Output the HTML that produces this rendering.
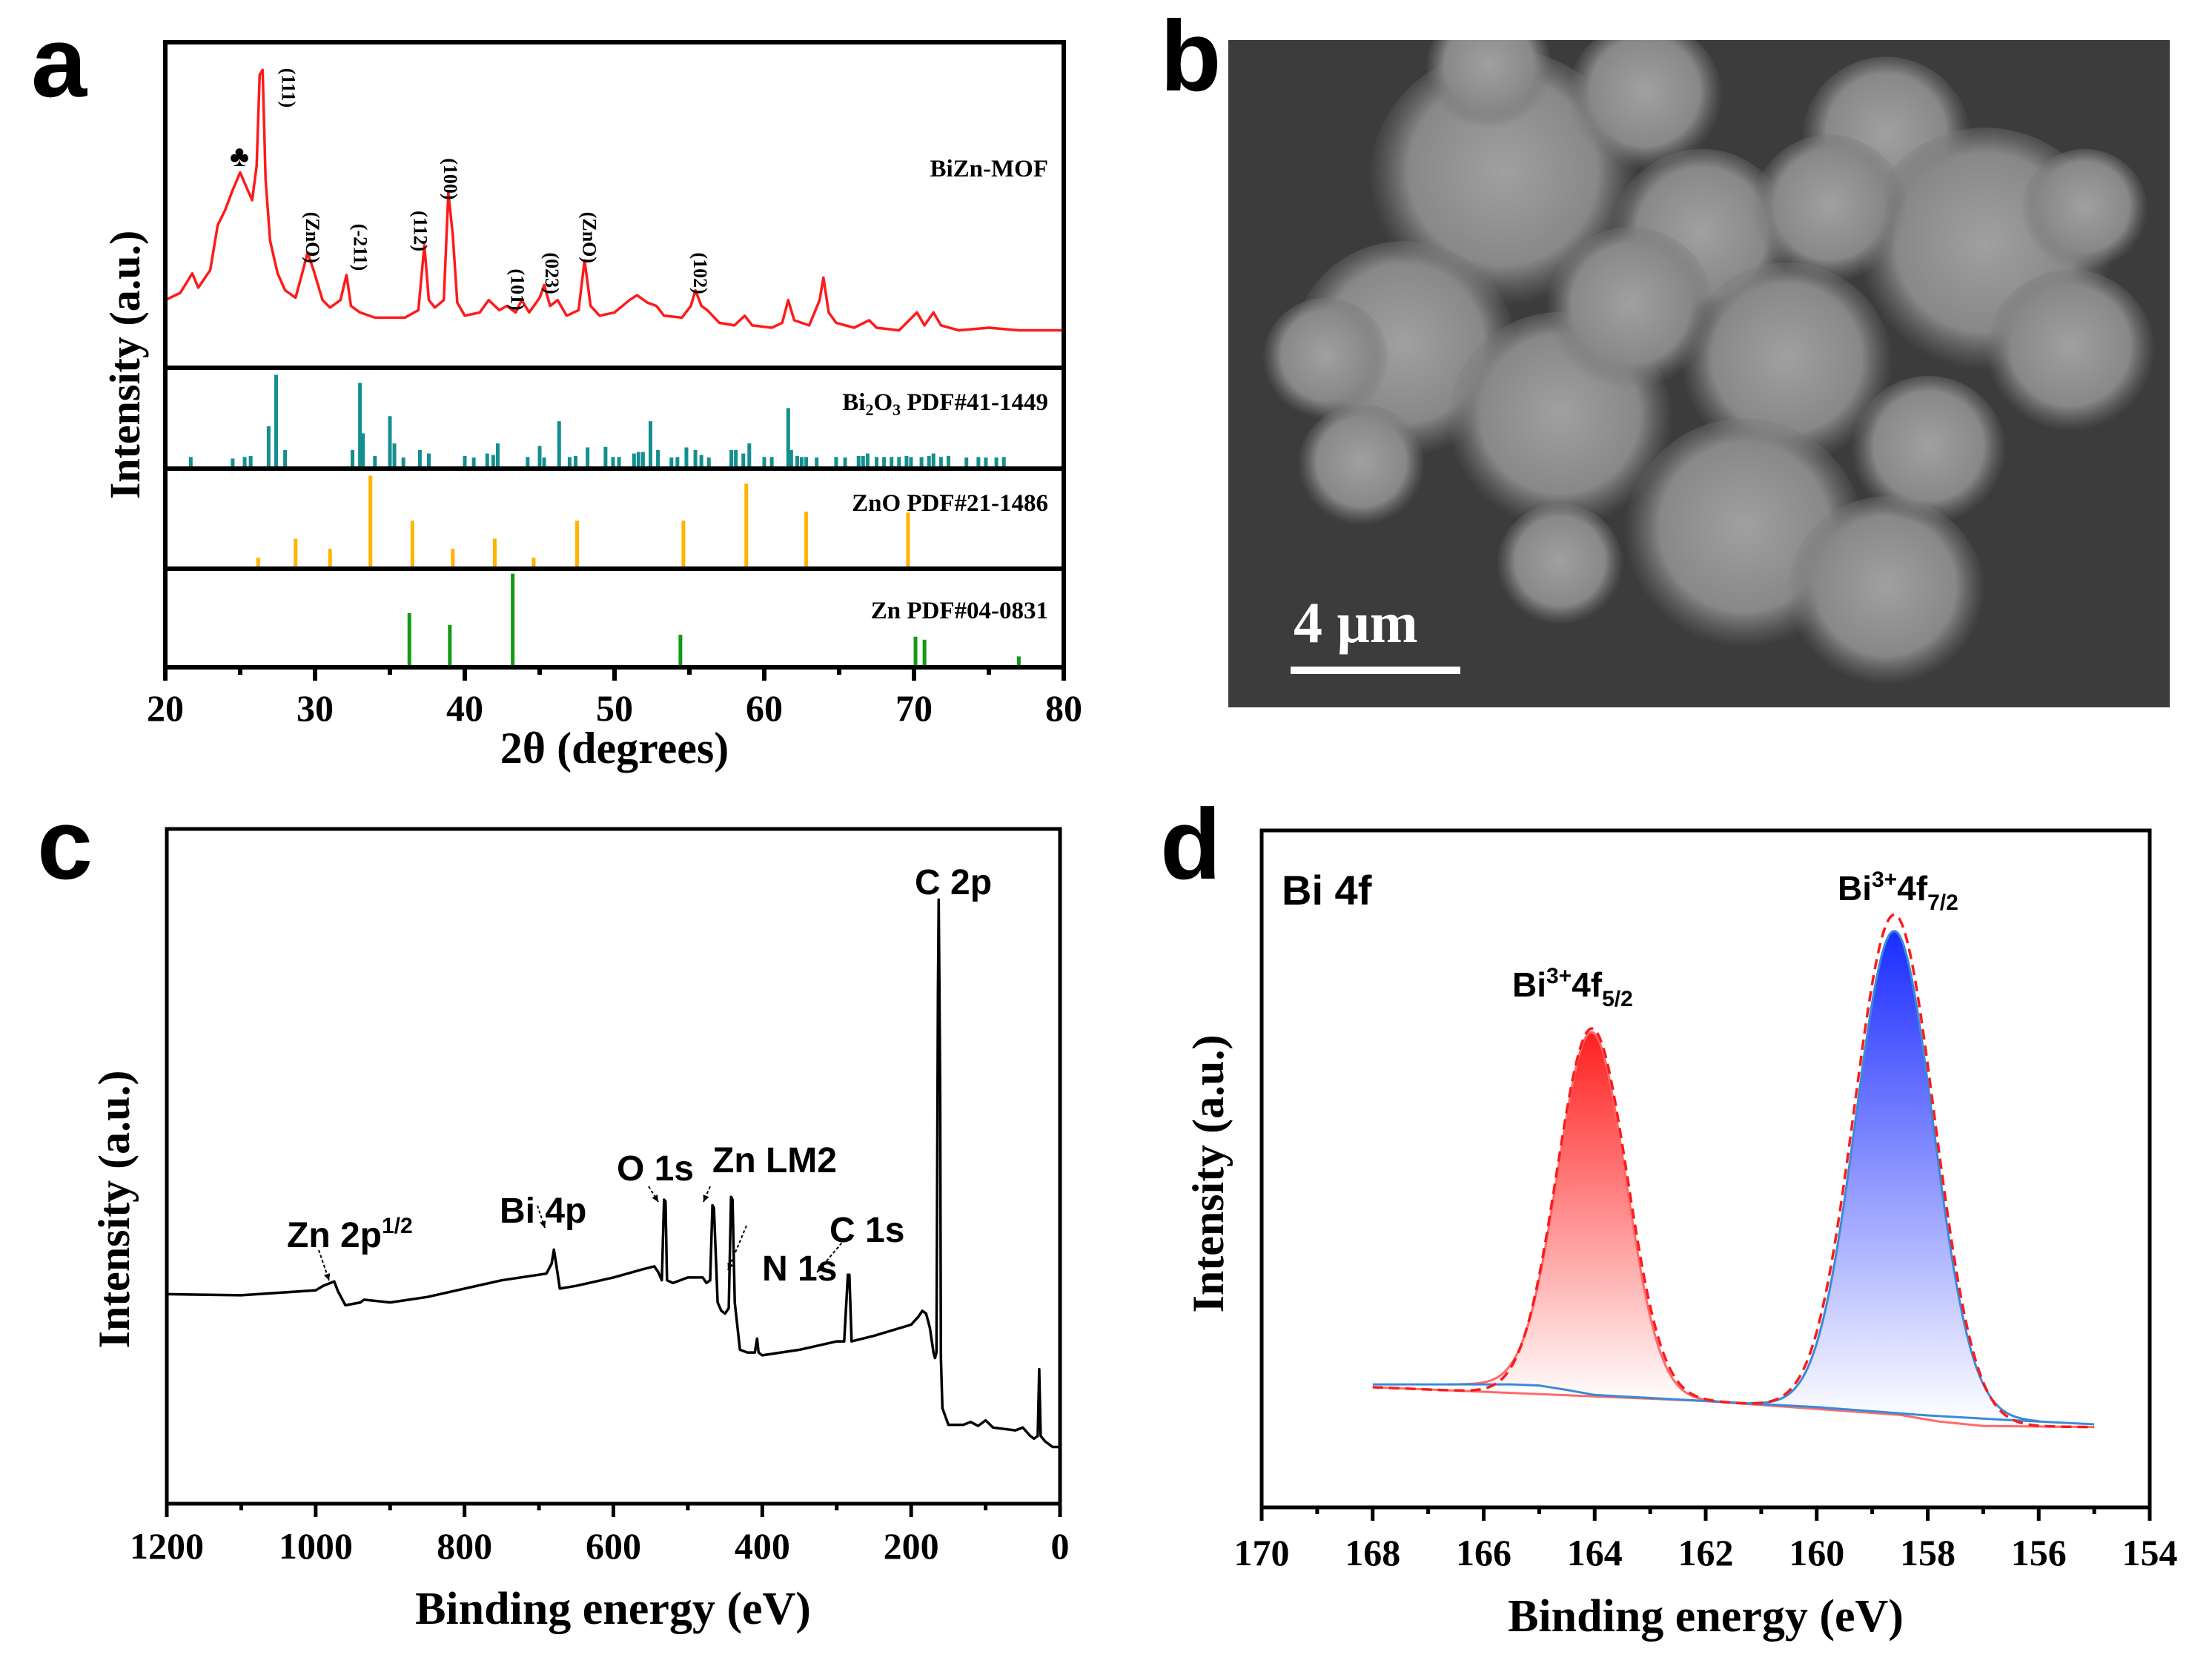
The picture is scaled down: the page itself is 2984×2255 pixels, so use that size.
<!DOCTYPE html>
<html><head><meta charset="utf-8">
<style>
html,body{margin:0;padding:0;background:#fff;}
svg{display:block;}
.serif{font-family:"Liberation Serif",serif;font-weight:bold;}
.sans{font-family:"Liberation Sans",sans-serif;font-weight:bold;}
</style></head>
<body>
<svg id="fig" width="2984" height="2255" viewBox="0 0 2984 2255" xmlns="http://www.w3.org/2000/svg">
<defs>
  <radialGradient id="semBlob" cx="50%" cy="45%" r="50%">
    <stop offset="0" stop-color="#a0a0a0"/>
    <stop offset="0.7" stop-color="#888888"/>
    <stop offset="1" stop-color="#707070" stop-opacity="0.0"/>
  </radialGradient>
  <linearGradient id="redFill" x1="0" y1="0" x2="0" y2="1">
    <stop offset="0" stop-color="#ff2020"/>
    <stop offset="1" stop-color="#ffffff"/>
  </linearGradient>
  <linearGradient id="blueFill" x1="0" y1="0" x2="0" y2="1">
    <stop offset="0" stop-color="#1a2cff"/>
    <stop offset="1" stop-color="#ffffff"/>
  </linearGradient>
  <clipPath id="semClip"><rect x="1657" y="54" width="1270" height="900"/></clipPath>
</defs>

<text class="sans" x="42" y="130" font-size="135">a</text>
<text class="sans" x="1565" y="122" font-size="135">b</text>
<text class="sans" x="50" y="1185" font-size="135">c</text>
<text class="sans" x="1565" y="1185" font-size="135">d</text>

<g id="pa"></g>
<g id="pb" clip-path="url(#semClip)"></g>
<g id="pc"></g>
<g id="pd"></g>

<g>
<text class="serif" x="1414" y="238" text-anchor="end" font-size="33">BiZn-MOF</text>
<text class="serif" x="1414" y="553" text-anchor="end" font-size="33">Bi<tspan font-size="22" dy="7">2</tspan><tspan dy="-7">O</tspan><tspan font-size="22" dy="7">3</tspan><tspan dy="-7"> PDF#41-1449</tspan></text>
<text class="serif" x="1414" y="689" text-anchor="end" font-size="33">ZnO PDF#21-1486</text>
<text class="serif" x="1414" y="834" text-anchor="end" font-size="33">Zn PDF#04-0831</text>
<text class="serif" x="829" y="1029" text-anchor="middle" font-size="60">2θ (degrees)</text>
<text class="serif" x="0" y="0" text-anchor="middle" font-size="58" transform="translate(188 492) rotate(-90)">Intensity (a.u.)</text>
</g>

<g>
<text class="sans" x="1234" y="1206" font-size="48">C 2p</text>
<text class="sans" x="832" y="1592" font-size="48">O 1s</text>
<text class="sans" x="961" y="1581" font-size="48">Zn LM2</text>
<text class="sans" x="674" y="1649" font-size="48">Bi 4p</text>
<text class="sans" x="387" y="1682" font-size="48">Zn 2p<tspan font-size="30" dy="-19">1/2</tspan></text>
<text class="sans" x="1119" y="1675" font-size="48">C 1s</text>
<text class="sans" x="1028" y="1727" font-size="48">N 1s</text>
<text class="serif" x="827" y="2190" text-anchor="middle" font-size="62">Binding energy (eV)</text>
<text class="serif" x="0" y="0" text-anchor="middle" font-size="60" transform="translate(174 1631) rotate(-90)">Intensity (a.u.)</text>
</g>

<g>
<text class="sans" x="1729" y="1220" font-size="56">Bi 4f</text>
<text class="sans" x="2479" y="1214" font-size="46">Bi<tspan font-size="30" dy="-18">3+</tspan><tspan dy="18">4f</tspan><tspan font-size="30" dy="13">7/2</tspan></text>
<text class="sans" x="2040" y="1344" font-size="46">Bi<tspan font-size="30" dy="-18">3+</tspan><tspan dy="18">4f</tspan><tspan font-size="30" dy="13">5/2</tspan></text>
<text class="serif" x="2301" y="2200" text-anchor="middle" font-size="62">Binding energy (eV)</text>
<text class="serif" x="0" y="0" text-anchor="middle" font-size="60" transform="translate(1650 1583) rotate(-90)">Intensity (a.u.)</text>
</g>
</svg>

<script>
// ---------- Panel a data ----------
const xrdTheta = [20,21,21.8,22.2,23,23.5,24,24.5,25,25.5,25.8,26.1,26.3,26.5,26.7,27,27.5,28,28.7,29.2,29.5,29.9,30.5,31,31.7,32.1,32.4,33,34,35,36,36.9,37.3,37.6,38,38.6,38.9,39.2,39.5,40,41,41.6,42.3,42.8,43.4,43.8,44.3,45,45.3,45.7,46.2,46.8,47.6,48,48.4,49,50,51,51.5,52.2,52.8,53.3,54.5,55.1,55.4,55.8,56.2,57,58,58.7,59.2,60.5,61.2,61.6,62,63,63.7,63.95,64.3,64.8,66,67,67.5,69,70.2,70.7,71.3,71.8,73,75,77,80];
const xrdIntensity = [20.8,23,29,24.6,30,43.8,48.5,54.6,60,54.6,51.5,62,90,91.5,57.7,39,29,23.8,21.5,30,35.4,30,20.8,18.5,20.8,28.5,19,17,15.4,15.4,15.4,17.7,37.7,20.8,18.5,20.8,53.8,40.8,20,16,17,20.8,17.7,19,17,20.8,17,21.5,25.4,19,20.8,16,17.7,33,19,16,17,20.8,22.3,20,19,16,15.4,19,23.8,19,17.7,13.8,13,16,13,12.3,13.8,20.8,14.6,13,20.8,27.7,17,13.8,12.3,14.6,12.3,11.5,17,13,17,13,11.5,12.3,11.5,11.5];
const bi2o3Pos = [21.7,24.5,25.3,25.7,26.9,27.4,28.0,32.5,33.0,33.2,34.0,35.0,35.3,35.9,37.0,37.6,40.0,40.6,41.5,41.9,42.2,44.2,45.0,45.3,46.3,47.0,47.4,48.2,49.4,49.9,50.3,51.3,51.6,51.9,52.4,52.9,53.8,54.2,54.8,55.4,55.8,56.3,57.8,58.1,58.6,59.0,60.0,60.5,61.6,61.8,62.2,62.5,62.8,63.5,64.8,65.4,66.3,66.6,66.9,67.5,68.0,68.5,69.0,69.5,69.8,70.5,71.0,71.3,71.8,72.3,73.5,74.3,74.8,75.5,76.0];
const bi2o3Height = [11.5,10,11.5,12.5,42,93,18.5,18.5,85,35,12.5,52,25,11,18.5,15,12.5,11,15,13.5,25,11.5,22.5,11,47,11.5,12.5,21,21.5,11.5,11.5,15,16.5,16.5,47,18.5,11,11.5,21,18.5,13.5,11,18.5,18.5,15,25,11.5,11.5,60,18.5,12.5,11.5,11.5,11,11.5,11,12.5,12.5,15,11.5,11.5,11.5,11.5,12.5,11.5,11.5,12.5,15,11.5,12.5,11,11.5,11,11,11.5];
const znoPos = [26.2,28.7,31.0,33.7,36.5,39.2,42.0,44.6,47.5,54.6,58.8,62.8,69.6];
const znoHeight = [11,30,20,93,48,20,30,11,48,48,85,57,56];
const znPos = [36.3,39.0,43.2,54.4,70.1,70.7,77.0];
const znHeight = [55,43,95,33,31,28,11];
const xrdTicks = [20,30,40,50,60,70,80];
const xrdPeakLabels = ["(111)","(ZnO)","(-211)","(112)","(100)","(101)","(023)","(ZnO)","(102)"];
const xrdPeakLabelTheta = [28.1,29.7,32.9,36.9,38.9,43.4,45.7,48.2,55.6];
const xrdPeakLabelIntensity = [86,40,37,42,58,24,29,40,29];

// ---------- Panel c data ----------
const surveyBE = [1200,1100,1000,990,975,970,960,940,935,900,850,800,750,700,690,683,680,677,672,650,600,560,545,540,535,532,530,528,520,500,480,475,470,467,465,460,455,450,445,442,440,437,430,420,410,407,405,400,350,300,290,285,283,280,250,200,190,185,180,175,170,168,166,164,163,162,161,160,158,150,130,120,110,100,90,60,50,40,35,30,28,26,20,10,0];
const surveyCounts = [377,375,384,392,400,382,357,362,367,362,372,387,402,412,414,432,457,432,387,392,407,422,427,417,402,547,544,402,397,407,407,397,402,537,532,362,347,342,352,552,547,362,277,272,272,297,272,267,277,292,292,412,412,292,302,322,337,347,342,317,272,262,272,922,1087,922,742,262,172,142,142,147,140,150,137,132,137,122,117,122,242,122,112,102,102];
const surveyTicks = [1200,1000,800,600,400,200,0];

// ---------- Panel d data ----------
const bi4fCenters = [164.05,158.6];
const bi4fHeights = [654,870];
const bi4fFwhm = [1.43,1.64];
const bi4fEnvHeights = [664,902];
const bgBlueBE = [168,165.5,165,164.5,164,162,160,158,156.6,155];
const bgBlueVal = [222,222,220,212,203,192,181,166,158,150];
const bgRedBE = [168,162,158.5,157.8,157,155];
const bgRedVal = [217,192,167,155,147,145];
const bi4fTicks = [170,168,166,164,162,160,158,156,154];

const NS = "http://www.w3.org/2000/svg";
function mk(parent, tag, attrs){
  const e = document.createElementNS(NS, tag);
  for (const k in attrs) e.setAttribute(k, attrs[k]);
  parent.appendChild(e);
  return e;
}
function interp(xs, ys, x){
  for (let i=0;i<xs.length-1;i++){
    const a=xs[i], b=xs[i+1];
    if ((x<=a && x>=b) || (x>=a && x<=b)){
      const t=(x-a)/(b-a||1); return ys[i]+t*(ys[i+1]-ys[i]);
    }
  }
  return ys[ys.length-1];
}

// ================= Panel a =================
(function(){
  const g = document.getElementById('pa');
  const L=223,R=1435,T=57,B=900, d1=496, d2=632, d3=767;
  const xs = t => L + (t-20)/60*(R-L);
  const yTop = p => d1 - p/100*(d1-T);
  function sticks(pos, hts, top, bot, color, name){
    pos.forEach((p,i)=>{
      const y2 = bot - hts[i]/100*(bot-top);
      const s = mk(g,'line',{x1:xs(p),x2:xs(p),y1:bot,y2:y2,stroke:color,'stroke-width':5});
      
      
    });
  }
  sticks(bi2o3Pos, bi2o3Height, d1, d2, '#148f8f', 'bi2o3-reference-line');
  sticks(znoPos, znoHeight, d2, d3, '#ffb400', 'zno-reference-line');
  sticks(znPos, znHeight, d3, B, '#139a13', 'zn-reference-line');
  const pts = xrdTheta.map((t,i)=> xs(t).toFixed(1)+','+yTop(xrdIntensity[i]).toFixed(1)).join(' ');
  const c = mk(g,'polyline',{points:pts,fill:'none',stroke:'#ff1a1a','stroke-width':3.5,'stroke-linejoin':'round'});
  
  
  const fr = mk(g,'rect',{x:L,y:T,width:R-L,height:B-T,fill:'none',stroke:'#000','stroke-width':6});
  
  
  [d1,d2,d3].forEach(y=>{
    const l = mk(g,'line',{x1:L,x2:R,y1:y,y2:y,stroke:'#000','stroke-width':6});
    
    
  });
  for (let t=20;t<=80;t+=5){
    const major = (t%10===0);
    const tk = mk(g,'line',{x1:xs(t),x2:xs(t),y1:B,y2:B+(major?18:10),stroke:'#000','stroke-width':6});
    
    
  }
  xrdTicks.forEach(t=>{
    const tx = mk(g,'text',{x:xs(t),y:972,'text-anchor':'middle','font-size':50,class:'serif'});
    tx.textContent = t;
    
    
  });
  xrdPeakLabels.forEach((s,i)=>{
    const x = xs(xrdPeakLabelTheta[i]), y = yTop(xrdPeakLabelIntensity[i]);
    const tx = mk(g,'text',{x:x,y:y,'text-anchor':'middle','font-size':26,class:'serif',transform:`rotate(90 ${x} ${y})`,'dominant-baseline':'middle'});
    tx.textContent = s;
    
    
  });
  const club = mk(g,'text',{x:323,y:224,'text-anchor':'middle','font-size':40,class:'serif'});
  club.textContent='♣';
  
  
})();

// ================= Panel b (SEM) =================
(function(){
  const g = document.getElementById('pb');
  const r = mk(g,'rect',{x:1657,y:54,width:1270,height:900,fill:'#3c3c3c'});
  
  
  const blobs = [[1060,130,95],[990,250,80],[935,255,45],[1100,300,80],[1200,170,65],[1330,100,60],[1400,180,90],[1460,250,60],[1260,260,75],[1230,380,85],[1330,420,70],[1100,400,45],[960,330,45],[1360,320,55],[1050,50,45],[1160,70,55],[1290,150,55],[1150,220,60],[1470,150,45]];
  blobs.forEach(b=>{
    const c = mk(g,'circle',{cx:b[0]*1.913,cy:b[1]*1.913,r:b[2]*1.913,fill:'url(#semBlob)'});
    
    
  });
  const bar = mk(g,'rect',{x:1741,y:899,width:229,height:10,fill:'#fff'});
  
  
  const t = mk(g,'text',{x:1745,y:866,'font-size':78,fill:'#fff',class:'serif'});
  t.textContent='4 μm';
  
  
})();

// ================= Panel c =================
(function(){
  const g = document.getElementById('pc');
  const L=225,R=1430,T=1118,B=2028;
  const xs = be => L + (1200-be)/1200*(R-L);
  const ys = v => B - v*(910/1214);
  const f = mk(g,'rect',{x:L,y:T,width:R-L,height:B-T,fill:'none',stroke:'#000','stroke-width':5});
  
  
  const pts = surveyBE.map((b,i)=> xs(b).toFixed(1)+','+ys(surveyCounts[i]).toFixed(1)).join(' ');
  const p = mk(g,'polyline',{points:pts,fill:'none',stroke:'#000','stroke-width':3.5,'stroke-linejoin':'round'});
  
  
  for (let b=0;b<=1200;b+=100){
    const major = b%200===0;
    const tk = mk(g,'line',{x1:xs(b),x2:xs(b),y1:B,y2:B+(major?18:9),stroke:'#000','stroke-width':5});
    
    
  }
  surveyTicks.forEach(b=>{
    const tx = mk(g,'text',{x:xs(b),y:2102,'text-anchor':'middle','font-size':50,class:'serif'});
    tx.textContent=b;
    
    
  });
  const arrows = [[430,1686,444,1727],[725,1626,735,1656],[875,1600,888,1621],[958,1600,949,1621],[1007,1653,982,1713],[1140,1671,1102,1716]];
  arrows.forEach(a=>{
    const l = mk(g,'line',{x1:a[0],y1:a[1],x2:a[2],y2:a[3],stroke:'#000','stroke-width':2,'stroke-dasharray':'4 3'});
    
    
    const ang = Math.atan2(a[3]-a[1],a[2]-a[0]);
    const hx = a[2], hy = a[3], s=10;
    const pts2 = `${hx},${hy} ${hx-s*Math.cos(ang-0.45)},${hy-s*Math.sin(ang-0.45)} ${hx-s*Math.cos(ang+0.45)},${hy-s*Math.sin(ang+0.45)}`;
    const h = mk(g,'polygon',{points:pts2,fill:'#000'});
    
    
  });
})();

// ================= Panel d =================
(function(){
  const g = document.getElementById('pd');
  const L=1702,R=2900,T=1120,B=2033;
  const xs = be => L + (170-be)/16*(R-L);
  const ys = v => B - v*(913/1222);
  const gauss = (x,c,h,w) => h*Math.exp(-4*Math.LN2*(x-c)*(x-c)/(w*w));
  const f = mk(g,'rect',{x:L,y:T,width:R-L,height:B-T,fill:'none',stroke:'#000','stroke-width':5});
  
  
  const step = 0.02;
  const grid = []; for (let x=168; x>=155-1e-9; x-=step) grid.push(+x.toFixed(3));
  const fills = ['url(#redFill)','url(#blueFill)'];
  const strokes = ['#ff6a6a','#3a8ad8'];
  const names = ['bi4f52-component','bi4f72-component'];
  bi4fCenters.forEach((c,k)=>{
    const sub = grid.filter(x=>x>=c-2.6 && x<=c+2.6);
    const top = sub.map(x=> xs(x).toFixed(1)+','+ys(interp(bgBlueBE,bgBlueVal,x)+gauss(x,c,bi4fHeights[k],bi4fFwhm[k])).toFixed(1));
    const bot = sub.slice().reverse().map(x=> xs(x).toFixed(1)+','+ys(interp(bgBlueBE,bgBlueVal,x)).toFixed(1));
    const pg = mk(g,'polygon',{points:top.concat(bot).join(' '),fill:fills[k],stroke:'none'});
    
    
    const ln = mk(g,'polyline',{points:top.join(' '),fill:'none',stroke:strokes[k],'stroke-width':3});
    
    
  });
  const bgR = mk(g,'polyline',{points:grid.map(x=>xs(x).toFixed(1)+','+ys(interp(bgRedBE,bgRedVal,x)).toFixed(1)).join(' '),fill:'none',stroke:'#ff6a6a','stroke-width':3});
  
  
  const bgB = mk(g,'polyline',{points:grid.map(x=>xs(x).toFixed(1)+','+ys(interp(bgBlueBE,bgBlueVal,x)).toFixed(1)).join(' '),fill:'none',stroke:'#3a8ad8','stroke-width':3});
  
  
  const env = grid.map(x=>{
    let v = interp(bgRedBE,bgRedVal,x);
    bi4fCenters.forEach((c,k)=>{ v += gauss(x,c,bi4fEnvHeights[k],bi4fFwhm[k]*1.04); });
    return xs(x).toFixed(1)+','+ys(v).toFixed(1);
  }).join(' ');
  const en = mk(g,'polyline',{points:env,fill:'none',stroke:'#ff1a1a','stroke-width':3.5,'stroke-dasharray':'14 8'});
  
  
  for (let b=154;b<=170;b+=1){
    const major = b%2===0;
    const tk = mk(g,'line',{x1:xs(b),x2:xs(b),y1:B,y2:B+(major?18:9),stroke:'#000','stroke-width':5});
    
    
  }
  bi4fTicks.forEach(b=>{
    const tx = mk(g,'text',{x:xs(b),y:2111,'text-anchor':'middle','font-size':50,class:'serif'});
    tx.textContent=b;
    
    
  });
})();
</script>
</body></html>
